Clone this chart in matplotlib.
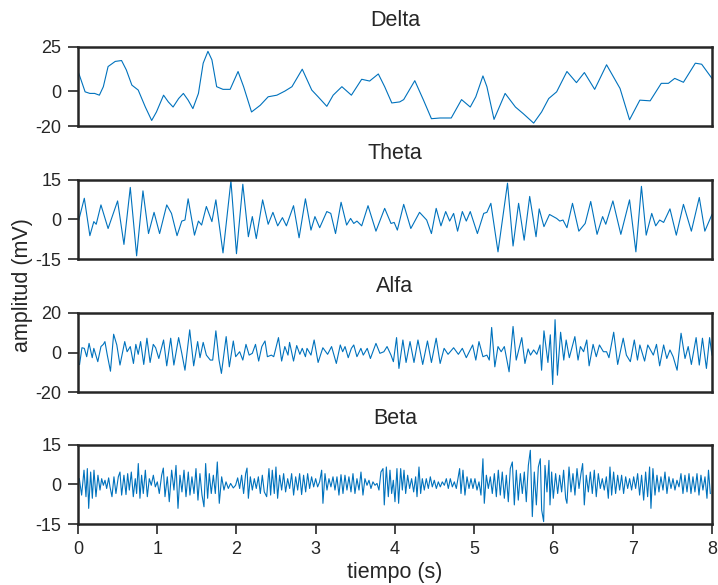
import matplotlib
matplotlib.use("Agg")
from matplotlib import pyplot as plt

plt.rcParams["font.family"] = ["Liberation Sans", "DejaVu Sans"]
plt.rcParams["axes.unicode_minus"] = False

# values (time in s, amplitude in mV)
delta_t = [0.01, 0.09, 0.15, 0.21, 0.27, 0.32, 0.38, 0.47, 0.55, 0.61,
           0.68, 0.76, 0.85, 0.93, 0.99, 1.08, 1.14, 1.20, 1.27, 1.33,
           1.39, 1.45, 1.52, 1.58, 1.64, 1.69, 1.75, 1.83, 1.92, 2.02,
           2.09, 2.19, 2.30, 2.40, 2.51, 2.61, 2.70, 2.83, 2.95, 3.03,
           3.14, 3.22, 3.33, 3.45, 3.58, 3.68, 3.79, 3.87, 3.96, 4.06,
           4.11, 4.25, 4.36, 4.46, 4.57, 4.71, 4.84, 4.95, 5.02, 5.11,
           5.16, 5.25, 5.39, 5.52, 5.62, 5.75, 5.85, 5.94, 6.04, 6.17,
           6.29, 6.39, 6.52, 6.67, 6.84, 6.96, 7.09, 7.22, 7.36, 7.45,
           7.53, 7.64, 7.79, 7.87, 8.0]
delta_v = [10.1, -0.4, -1.3, -1.3, -2.3, 2.5, 13.9, 16.8, 17.3, 12,
           3.4, 0.6, -9, -16.6, -11.8, -2.3, -6.1, -9, -4.2, -1.3,
           -5.1, -9.9, -1.3, 15.8, 22.5, 17.7, 2.5, 1, 1, 11.1,
           2.5, -11.8, -8, -3.2, -2.3, 0, 2.5, 12.4, 0.6, -3.2,
           -8.6, -2.3, 2.5, -2.3, 6.7, 5.7, 9.7, 2.5, -6.7, -6.1,
           -4.8, 5.9, -5.1, -15.6, -15.2, -15.2, -4.8, -9, -3.2, 8.6,
           2.5, -16, -1.3, -9, -12.8, -18.1, -11.8, -4.2, -0.4, 11.1,
           4.8, 10.5, 1, 14.9, 1.5, -16.2, -5.1, -5.5, 4.4, 4.4,
           7.2, 5, 15.8, 15.2, 7.2]

theta_t = [0.01, 0.08, 0.15, 0.20, 0.23, 0.29, 0.38, 0.50, 0.58, 0.66,
           0.74, 0.82, 0.89, 0.96, 1.03, 1.12, 1.18, 1.25, 1.31, 1.35,
           1.39, 1.47, 1.52, 1.56, 1.62, 1.69, 1.74, 1.83, 1.93, 2.00,
           2.08, 2.15, 2.20, 2.25, 2.33, 2.40, 2.46, 2.52, 2.58, 2.63,
           2.72, 2.79, 2.87, 2.94, 2.99, 3.05, 3.14, 3.19, 3.25, 3.32,
           3.39, 3.44, 3.48, 3.52, 3.58, 3.66, 3.76, 3.87, 3.95, 3.99,
           4.03, 4.11, 4.20, 4.31, 4.40, 4.46, 4.52, 4.58, 4.64, 4.69,
           4.74, 4.79, 4.85, 4.90, 4.95, 5.04, 5.12, 5.16, 5.21,
           5.30, 5.42, 5.49, 5.56, 5.63, 5.70, 5.78, 5.82, 5.88, 5.95,
           6.04, 6.08, 6.12, 6.17, 6.24, 6.32, 6.40, 6.47, 6.55, 6.62,
           6.66, 6.75, 6.85, 6.96, 7.04, 7.11, 7.17, 7.24, 7.29, 7.34,
           7.39, 7.47, 7.55, 7.64, 7.74, 7.84, 7.91, 8.0]
theta_v = [-0.2, 8, -6.1, -0.8, -1.8, 5.5, -3.4, 7, -9.4, 12.1,
           -13.7, 10.8, -5.3, 2.7, -5.3, 5.5, 2.3, -6.1, -0.6, -0.2,
           7.8, -5.9, -0.6, -2.1, 4.9, -0.8, 7.4, -12.6, 14.6, -12.9,
           13.3, -6.5, 1.1, -7.2, 7.4, -1.8, 2.7, -2.4, 0.7, -2.4,
           5.2, -6.9, 7.8, -4, 1.1, -3.1, 3, 2.3, -5.3, 6.5,
           -2.1, 0.4, -1.5, -0.6, -2.4, 5.2, -4.4, 4.2, -1.5, -1.1,
           -4, 5.7, -3.4, 2.7, -0.2, -5.3, 4.2, -2.4, 3, -0.6,
           2.3, -4.4, 3, -0.6, 3, -5.3, 2.3, 2.7, 6.1,
           -12.2, 13.7, -10, 6.1, -7.8, 8.7, -6.5, 4, -2.7, 1.9,
           0.4, -0.6, -0.2, -3.1, 6.1, -4.4, -1.5, 6.8, -5.6, 1.1,
           -1.8, 7, -5.6, 7.4, -12.2, 12.5, -5.9, 2.3, -2.4, -0.2,
           -1.1, 4, -5.9, 5.7, -4.4, 8.3, -4.4, 1.9]

alfa_t = [0.02, 0.05, 0.08, 0.11, 0.14, 0.18, 0.20, 0.25, 0.29, 0.32,
          0.34, 0.37, 0.41, 0.45, 0.49, 0.53, 0.59, 0.62, 0.66, 0.70,
          0.73, 0.76, 0.79, 0.83, 0.87, 0.91, 0.95, 0.98, 1.02, 1.08,
          1.12, 1.17, 1.21, 1.27, 1.31, 1.35, 1.41, 1.46, 1.51, 1.54,
          1.58, 1.62, 1.67, 1.70, 1.74, 1.78, 1.81, 1.87, 1.91, 1.96,
          1.99, 2.04, 2.08, 2.12, 2.16, 2.20, 2.24, 2.28, 2.32, 2.36,
          2.39, 2.44, 2.47, 2.53, 2.57, 2.61, 2.65,
          2.67, 2.72, 2.76, 2.80, 2.83, 2.87, 2.89, 2.94, 2.98, 3.03,
          3.09, 3.15, 3.20, 3.26, 3.31, 3.34, 3.37, 3.41, 3.45, 3.48,
          3.52, 3.57, 3.60, 3.65, 3.69, 3.76, 3.81, 3.86, 3.90, 3.95,
          3.98, 4.02, 4.05, 4.10, 4.14, 4.19, 4.24, 4.29, 4.35, 4.41,
          4.46, 4.52, 4.57, 4.62, 4.67, 4.74, 4.80, 4.85, 4.90, 4.98,
          5.02, 5.06, 5.11, 5.16, 5.19, 5.22,
          5.26, 5.30, 5.34, 5.38, 5.44, 5.49, 5.53, 5.60, 5.64, 5.68,
          5.71, 5.75, 5.79, 5.83, 5.85, 5.88, 5.93, 5.96, 5.99, 6.02,
          6.05, 6.09, 6.13, 6.16, 6.20, 6.27, 6.31, 6.34, 6.38, 6.42,
          6.45, 6.50, 6.54, 6.58, 6.63, 6.67, 6.70, 6.76, 6.81, 6.88,
          6.92, 6.97, 7.02, 7.06, 7.09, 7.15, 7.19, 7.26, 7.30, 7.34,
          7.39, 7.43, 7.47, 7.51, 7.56, 7.61, 7.66, 7.70, 7.74, 7.80,
          7.84, 7.88, 7.93, 7.97, 8.0]
alfa_v = [-6, 2.4, 2.1, -2.1, 4.6, -2.6, 2.1, -4.6, 3, 4.1,
          5.5, -1.3, -9.4, 9.2, 3.8, -6.3, 5.5, 0.4, 3, -5.5,
          4.1, -0.9, 5.5, -6, 7.2, -5, 4.1, 2.4, -3, 6.3,
          -6.7, 7.2, -6.3, 7.5, -0.4, -8.9, 11.4, -6.7, 5.5, -2.6,
          5.1, -1.3, -3.8, -3.8, 10.9, -3.8, -10.5, 8, -7.2, 5.8,
          -2.1, 0.4, -3.8, 4.1, -1.3, -0.4, 4.1, -4.3, 3, 5.8,
          -2.1, -1.3, -2.1, 7.5, -4.3, 3, -1.3,
          5.1, -4.3, 3.5, -0.9, 2.1, -2.1, 2.1, -1.3, 6.3, -5,
          2.4, -0.9, 3, -5.5, 3.8, 0.4, 3, -2.6, 2.1, 3.8,
          -2.1, 2.1, -1.3, 2.1, -3, 4.6, -0.4, 0.4, 3, -1.3,
          -4.6, 7.5, -8, 6.3, -5, 5.5, -5, 6.3, -6, 5.8,
          -5, 7.2, -5.5, 2.1, -0.9, 2.4, -0.9, 2.1, -2.6, 3.8,
          -3.8, 5.5, -2.1, -1.3, -3.8, 12.6,
          -7.2, 3, 0.4, 3, -9.7, 13.1, -3.8, 7.5, -5.5, 1.8,
          -1.3, 1.3, -0.9, 3.8, -8.9, 10.9, -5, 8.9, -16.1, 16.5,
          -11.4, 10.2, -3.8, 6.3, -2.6, 8, -3.8, 3, 0.4, 6.3,
          -6.7, 4.1, -2.1, 3.8, 0.4, 0.4, -2.6, 10.2, -6, 7.2,
          -1.3, -4.6, 6.3, -3.8, 3.8, -4.3, 3.8, -1.3, 4.1, -6.7,
          3.8, -3, 1.3, -2.1, -8.9, 9.7, -3, 3, -6, 7.5,
          -6.3, 7.2, -8, 7.5, -1.3]

beta_t = [0.017, 0.046, 0.076, 0.101, 0.118, 0.135, 0.160, 0.181, 0.202, 0.227,
          0.252, 0.278, 0.299, 0.320, 0.341, 0.362, 0.387, 0.404, 0.429, 0.454,
          0.479, 0.509, 0.530, 0.551, 0.580, 0.606, 0.627, 0.648, 0.673, 0.698,
          0.723, 0.740, 0.761, 0.782, 0.803, 0.824, 0.850, 0.875, 0.900, 0.925,
          0.951, 0.976, 1.001, 1.026, 1.056, 1.077, 1.098, 1.127, 1.152, 1.182,
          1.211, 1.237, 1.262, 1.287, 1.312, 1.338, 1.363, 1.392, 1.413, 1.438,
          1.464, 1.489, 1.514, 1.539, 1.565, 1.590, 1.611, 1.636, 1.657, 1.682,
          1.708, 1.733, 1.758, 1.783, 1.813, 1.842, 1.868, 1.897, 1.926, 1.960,
          1.989, 2.015, 2.040, 2.065, 2.090, 2.116, 2.133, 2.150, 2.175, 2.200,
          2.225, 2.250, 2.276, 2.301, 2.326, 2.351, 2.381, 2.410, 2.431, 2.452,
          2.477, 2.498, 2.519, 2.545, 2.570, 2.595, 2.620, 2.646, 2.671, 2.696,
          2.721, 2.747, 2.772, 2.797, 2.822, 2.847, 2.873, 2.898, 2.923, 2.948,
          2.974, 2.999, 3.024, 3.049, 3.075, 3.091, 3.117, 3.142, 3.167, 3.192,
          3.218, 3.243, 3.268, 3.293, 3.319, 3.344, 3.369, 3.394, 3.419, 3.445,
          3.470, 3.495, 3.520, 3.546, 3.571, 3.596, 3.621, 3.647, 3.672, 3.697,
          3.722, 3.748, 3.773, 3.798, 3.823, 3.849, 3.865, 3.891, 3.916,
          3.937, 3.958, 3.979, 4.000, 4.025, 4.046, 4.072, 4.093, 4.114, 4.135,
          4.160, 4.185, 4.210, 4.236, 4.261, 4.278, 4.303, 4.324, 4.345, 4.370,
          4.395, 4.421, 4.446, 4.471, 4.496, 4.522, 4.547, 4.572, 4.597, 4.623,
          4.648, 4.673, 4.698, 4.724, 4.749, 4.774, 4.799, 4.816, 4.833, 4.858,
          4.883, 4.909, 4.934, 4.959, 4.984, 5.009, 5.035, 5.060, 5.085, 5.110,
          5.127, 5.153, 5.178, 5.203, 5.228, 5.254, 5.279, 5.304, 5.329, 5.354,
          5.380, 5.405, 5.430, 5.455, 5.481, 5.506, 5.531, 5.556, 5.582, 5.607,
          5.632, 5.657, 5.683, 5.708, 5.733, 5.758, 5.784, 5.809, 5.834, 5.851,
          5.876, 5.893, 5.918, 5.943,
          5.956, 5.977, 5.998, 6.027, 6.053, 6.078, 6.103, 6.128, 6.154, 6.170,
          6.196, 6.221, 6.246, 6.271, 6.297, 6.322, 6.347, 6.368, 6.389, 6.414,
          6.440, 6.465, 6.490, 6.515, 6.540, 6.566, 6.591, 6.616, 6.641, 6.667,
          6.692, 6.713, 6.734, 6.759, 6.784, 6.810, 6.835, 6.860, 6.885, 6.911,
          6.936, 6.961, 6.986, 7.012, 7.037, 7.062, 7.087, 7.112, 7.138, 7.163,
          7.188, 7.213, 7.230, 7.255, 7.281, 7.306, 7.331, 7.356, 7.382, 7.407,
          7.432, 7.457, 7.483, 7.508, 7.533, 7.558, 7.584, 7.609, 7.634, 7.659,
          7.685, 7.710, 7.735, 7.760, 7.785, 7.811, 7.836, 7.861, 7.886, 7.912,
          7.937, 7.956, 7.979]
beta_v = [2.2, -4, 5.4, -4.6, 6, -9, 4.7, -5.2, 5.4, -4.6,
          3.5, -2.1, 2.2, -0.3, 1.6, -1.5, 2.5, -0.9, -4.6, 2.9,
          -3.4, 2.9, 4.7, -4, 3.5, -3.8, 4.1, -2.1, 4.7, -4.6,
          2.2, -3.4, 7.9, -5.2, 3.5, -3.4, 5.4, -4.6, 2.2, -0.3,
          3.5, -0.9, 1, -3.4, 3.5, 6.2, -4.6, 2.9, -6.5, 5.4,
          -2.1, 7.2, -9, 3.5, -2.8, 5.4, -4.6, 4.7, -4, 2.9,
          -3.4, 6, -5.9, 4.1, -4, -8.4, 7.9, -5.2, 4.1, -3.4,
          3.5, -3.4, 8.5, -7.1, 2.9, -2.1, 1, -1.5, 0.4, -1.3,
          -0.3, 2.5, -1.5, 3.5, -3.4, 4.1, 6.2, -5.2, 2.9, -2.1,
          2.2, -1.5, 2.9, -3.4, 3.5, -2.8, -4.6, 6, -4, 5.4,
          -3.4, 6.6, -5.2, 3.5, -2.1, 4.1, -2.8, 2.2, -1.5, 4.1,
          -4, 2.9, -2.1, 4.1, -3.8, 3.5, -2.8, 4.1, -1.5, 2.9,
          -0.9, 2.2, -0.9, 1, 5.4, -7.1, 4.1, -2.1, 2.2, -0.9,
          2.9, -2.1, 2.9, -4, 3.7, -3.4, 3.5, -2.1, 2.9, -2.8,
          4.1, -3.4, 2.2, -2.1, 4.7, -4, 2.2, -0.3, 1.6, -1.5,
          1, -0.3, 0.4, -2.1, 4.7, 6, -7.7, 6.6, -4.6,
          5.4, -3.4, 1.6, -6.5, 6, -7.1, 6, -2.1, 5.4, -3.4,
          3.5, -1.5, 2.2, -2.8, 2.9, -4.6, 6.6, -3.4, 2.2, -2.1,
          2.2, -1.5, 2.9, -0.9, 1.6, -1.5, 1, -0.9, 1, -0.3,
          2.2, -1.5, 2.2, -0.9, 1, -1.5, 2.9, 6, -3.4, 5.4,
          -4, 2.9, -1.5, 2.2, -1.5, 2.2, -2.1, 1, -4, 9.7,
          -7.1, 3.5, -1.5, 2.9, -3.4, 4.1, -4.6, 5.4, -4, 4.7,
          -5.2, 3.5, -6.5, 6, 8.5, -7.7, 5.4, -5.9, 4.1, -3.4,
          4.7, -6.5, 7.2, 12.9, -12.1, 4.7, -7.7, 6.6, 9.7, -9.6,
          -14, 7.2, -2.8, 9.1,
          -7.7, 4.7, -5.2, 4.1, -3.4, 3.5, -2.8, 5.4, -5.2, -7.1,
          6.6, -2.8, 4.1, -4, 6, -1.5, 4.1, 7.9, -7.7, 3.5,
          -2.8, 4.7, -3.4, 5.4, -4.6, 4.1, -1.5, 2.2, -2.1, 2.9,
          -5.2, 6.6, -4, 4.7, -3.4, 3.5, -2.1, 3.5, -3.4, 2.9,
          -1.5, 2.2, -2.1, 2.9, -1.5, 4.1, -4, 3.5, -5.9, 4.7,
          -4.6, 6.6, -9, 6, -4, 3.5, -2.8, 2.9, -2.1, 4.7,
          -3.4, 2.9, -1.5, 2.2, -2.1, 1.6, -0.9, 4.1, -3.4, 3.5,
          -2.8, 4.1, -3.4, 2.9, -2.8, 4.1, -4, 3.5, -2.1, 2.9,
          -5.2, 5.4, -3.4]

titles = ["Delta", "Theta", "Alfa", "Beta"]
y_limits = [(-20, 25), (-15, 15), (-20, 20), (-15, 15)]
y_ticks = [[-20, 0, 25], [-15, 0, 15], [-20, 0, 20], [-15, 0, 15]]
x_ticks = [0, 1, 2, 3, 4, 5, 6, 7, 8]

series = [(delta_t, delta_v), (theta_t, theta_v), (alfa_t, alfa_v), (beta_t, beta_v)]
# axes bottoms / heights in figure fraction
bottoms = [0.7838, 0.5568, 0.3294, 0.1038]
height = 0.1360

fig = plt.figure(figsize=(7.18, 5.85), dpi=100)
dark = "#262626"

for i, (t, v) in enumerate(series):
    ax = fig.add_axes([0.1086, bottoms[i], 0.883, height])
    ax.plot(t, v, color="#0072BD", linewidth=0.8)
    ax.set_xlim(0, 8)
    ax.set_ylim(*y_limits[i])
    ax.set_yticks(y_ticks[i])
    ax.set_yticklabels([str(y) for y in y_ticks[i]])
    ax.set_title(titles[i], fontsize=15.5, color=dark, pad=15)
    for s in ax.spines.values():
        s.set_linewidth(1.8)
        s.set_color(dark)
    ax.tick_params(direction="out", length=7, width=1.2, pad=5, colors=dark,
                   labelsize=13, labelcolor=dark)
    if i == 3:
        ax.set_xticks(x_ticks)
        ax.set_xlabel("tiempo (s)", fontsize=15.5, color=dark, labelpad=3)
    else:
        ax.set_xticks([])

fig.text(0.031, 0.513, "amplitud (mV)", rotation=90, ha="center", va="center",
         fontsize=15.5, color=dark)

fig.savefig("out.png", dpi=100)
